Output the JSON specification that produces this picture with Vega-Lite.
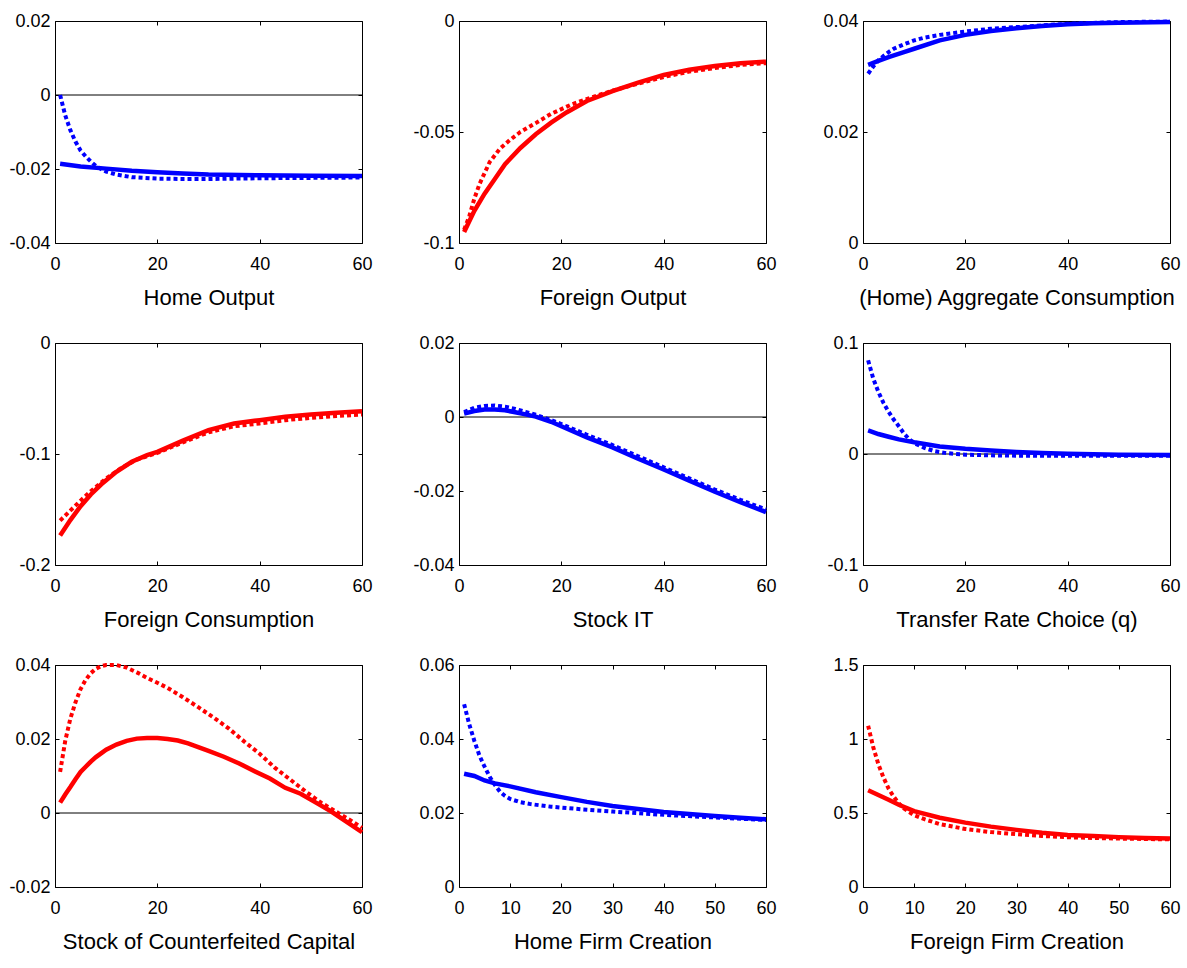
{
"$schema":"https://vega.github.io/schema/vega-lite/v6.json",
"padding":{"left":8,"top":11,"right":5,"bottom":5},
"background":"white",
"datasets":{"irf":[
{"p":1,"s":"solid","t":1,"v":-0.0186},{"p":1,"s":"solid","t":5,"v":-0.0193},{"p":1,"s":"solid","t":10,"v":-0.0199},{"p":1,"s":"solid","t":15,"v":-0.0205},{"p":1,"s":"solid","t":20,"v":-0.0209},{"p":1,"s":"solid","t":25,"v":-0.0212},{"p":1,"s":"solid","t":30,"v":-0.0215},{"p":1,"s":"solid","t":40,"v":-0.0217},{"p":1,"s":"solid","t":50,"v":-0.0218},{"p":1,"s":"solid","t":60,"v":-0.0219},
{"p":1,"s":"dotted","t":1,"v":0},{"p":1,"s":"dotted","t":2,"v":-0.0055},{"p":1,"s":"dotted","t":3,"v":-0.0095},{"p":1,"s":"dotted","t":4,"v":-0.0126},{"p":1,"s":"dotted","t":5,"v":-0.015},{"p":1,"s":"dotted","t":6,"v":-0.0166},{"p":1,"s":"dotted","t":7,"v":-0.018},{"p":1,"s":"dotted","t":8,"v":-0.0192},{"p":1,"s":"dotted","t":9,"v":-0.02},{"p":1,"s":"dotted","t":10,"v":-0.0207},{"p":1,"s":"dotted","t":12,"v":-0.0215},{"p":1,"s":"dotted","t":15,"v":-0.0222},{"p":1,"s":"dotted","t":20,"v":-0.0226},{"p":1,"s":"dotted","t":25,"v":-0.0227},{"p":1,"s":"dotted","t":30,"v":-0.0227},{"p":1,"s":"dotted","t":40,"v":-0.0225},{"p":1,"s":"dotted","t":50,"v":-0.0224},{"p":1,"s":"dotted","t":60,"v":-0.0223},
{"p":2,"s":"solid","t":1,"v":-0.095},{"p":2,"s":"solid","t":3,"v":-0.0855},{"p":2,"s":"solid","t":5,"v":-0.0778},{"p":2,"s":"solid","t":7,"v":-0.0712},{"p":2,"s":"solid","t":9,"v":-0.0645},{"p":2,"s":"solid","t":12,"v":-0.0572},{"p":2,"s":"solid","t":15,"v":-0.051},{"p":2,"s":"solid","t":18,"v":-0.0458},{"p":2,"s":"solid","t":21,"v":-0.0412},{"p":2,"s":"solid","t":25,"v":-0.036},{"p":2,"s":"solid","t":30,"v":-0.0316},{"p":2,"s":"solid","t":35,"v":-0.0278},{"p":2,"s":"solid","t":40,"v":-0.0243},{"p":2,"s":"solid","t":45,"v":-0.022},{"p":2,"s":"solid","t":50,"v":-0.0203},{"p":2,"s":"solid","t":55,"v":-0.019},{"p":2,"s":"solid","t":60,"v":-0.0183},
{"p":2,"s":"dotted","t":1,"v":-0.094},{"p":2,"s":"dotted","t":2,"v":-0.088},{"p":2,"s":"dotted","t":3,"v":-0.08},{"p":2,"s":"dotted","t":4,"v":-0.0735},{"p":2,"s":"dotted","t":6,"v":-0.0635},{"p":2,"s":"dotted","t":8,"v":-0.0575},{"p":2,"s":"dotted","t":10,"v":-0.0535},{"p":2,"s":"dotted","t":12,"v":-0.05},{"p":2,"s":"dotted","t":15,"v":-0.046},{"p":2,"s":"dotted","t":18,"v":-0.0418},{"p":2,"s":"dotted","t":22,"v":-0.0376},{"p":2,"s":"dotted","t":26,"v":-0.0343},{"p":2,"s":"dotted","t":30,"v":-0.0314},{"p":2,"s":"dotted","t":35,"v":-0.0282},{"p":2,"s":"dotted","t":40,"v":-0.0252},{"p":2,"s":"dotted","t":45,"v":-0.0228},{"p":2,"s":"dotted","t":50,"v":-0.0212},{"p":2,"s":"dotted","t":55,"v":-0.0198},{"p":2,"s":"dotted","t":60,"v":-0.019},
{"p":3,"s":"solid","t":1,"v":0.0321},{"p":3,"s":"solid","t":3,"v":0.0328},{"p":3,"s":"solid","t":5,"v":0.0335},{"p":3,"s":"solid","t":8,"v":0.0344},{"p":3,"s":"solid","t":10,"v":0.035},{"p":3,"s":"solid","t":15,"v":0.0365},{"p":3,"s":"solid","t":20,"v":0.0375},{"p":3,"s":"solid","t":25,"v":0.0382},{"p":3,"s":"solid","t":30,"v":0.0387},{"p":3,"s":"solid","t":35,"v":0.0391},{"p":3,"s":"solid","t":40,"v":0.0394},{"p":3,"s":"solid","t":45,"v":0.0396},{"p":3,"s":"solid","t":50,"v":0.0397},{"p":3,"s":"solid","t":60,"v":0.0398},
{"p":3,"s":"dotted","t":1,"v":0.0305},{"p":3,"s":"dotted","t":2,"v":0.0318},{"p":3,"s":"dotted","t":3,"v":0.0329},{"p":3,"s":"dotted","t":4,"v":0.0337},{"p":3,"s":"dotted","t":5,"v":0.0344},{"p":3,"s":"dotted","t":6,"v":0.035},{"p":3,"s":"dotted","t":8,"v":0.0358},{"p":3,"s":"dotted","t":10,"v":0.0365},{"p":3,"s":"dotted","t":12,"v":0.037},{"p":3,"s":"dotted","t":15,"v":0.0375},{"p":3,"s":"dotted","t":20,"v":0.0381},{"p":3,"s":"dotted","t":25,"v":0.0386},{"p":3,"s":"dotted","t":30,"v":0.0389},{"p":3,"s":"dotted","t":35,"v":0.0392},{"p":3,"s":"dotted","t":40,"v":0.0395},{"p":3,"s":"dotted","t":50,"v":0.0398},{"p":3,"s":"dotted","t":60,"v":0.0399},
{"p":4,"s":"solid","t":1,"v":-0.1735},{"p":4,"s":"solid","t":3,"v":-0.1595},{"p":4,"s":"solid","t":5,"v":-0.147},{"p":4,"s":"solid","t":7,"v":-0.1365},{"p":4,"s":"solid","t":9,"v":-0.1275},{"p":4,"s":"solid","t":12,"v":-0.116},{"p":4,"s":"solid","t":15,"v":-0.107},{"p":4,"s":"solid","t":18,"v":-0.101},{"p":4,"s":"solid","t":20,"v":-0.098},{"p":4,"s":"solid","t":25,"v":-0.088},{"p":4,"s":"solid","t":30,"v":-0.0785},{"p":4,"s":"solid","t":35,"v":-0.0725},{"p":4,"s":"solid","t":40,"v":-0.0695},{"p":4,"s":"solid","t":45,"v":-0.0665},{"p":4,"s":"solid","t":50,"v":-0.0645},{"p":4,"s":"solid","t":55,"v":-0.0628},{"p":4,"s":"solid","t":60,"v":-0.0614},
{"p":4,"s":"dotted","t":1,"v":-0.16},{"p":4,"s":"dotted","t":3,"v":-0.151},{"p":4,"s":"dotted","t":5,"v":-0.142},{"p":4,"s":"dotted","t":7,"v":-0.1335},{"p":4,"s":"dotted","t":10,"v":-0.122},{"p":4,"s":"dotted","t":13,"v":-0.1125},{"p":4,"s":"dotted","t":16,"v":-0.105},{"p":4,"s":"dotted","t":20,"v":-0.099},{"p":4,"s":"dotted","t":25,"v":-0.0895},{"p":4,"s":"dotted","t":30,"v":-0.0805},{"p":4,"s":"dotted","t":35,"v":-0.075},{"p":4,"s":"dotted","t":40,"v":-0.0725},{"p":4,"s":"dotted","t":45,"v":-0.0695},{"p":4,"s":"dotted","t":50,"v":-0.0675},{"p":4,"s":"dotted","t":55,"v":-0.0658},{"p":4,"s":"dotted","t":60,"v":-0.0644},
{"p":5,"s":"solid","t":1,"v":0.0009},{"p":5,"s":"solid","t":3,"v":0.0016},{"p":5,"s":"solid","t":5,"v":0.002},{"p":5,"s":"solid","t":7,"v":0.002},{"p":5,"s":"solid","t":9,"v":0.0018},{"p":5,"s":"solid","t":11,"v":0.0013},{"p":5,"s":"solid","t":13,"v":0.0007},{"p":5,"s":"solid","t":15,"v":0.0001},{"p":5,"s":"solid","t":18,"v":-0.0013},{"p":5,"s":"solid","t":20,"v":-0.0025},{"p":5,"s":"solid","t":25,"v":-0.0055},{"p":5,"s":"solid","t":30,"v":-0.0082},{"p":5,"s":"solid","t":35,"v":-0.0113},{"p":5,"s":"solid","t":40,"v":-0.0142},{"p":5,"s":"solid","t":45,"v":-0.0172},{"p":5,"s":"solid","t":50,"v":-0.0202},{"p":5,"s":"solid","t":55,"v":-0.023},{"p":5,"s":"solid","t":60,"v":-0.0257},
{"p":5,"s":"dotted","t":1,"v":0.0013},{"p":5,"s":"dotted","t":3,"v":0.0025},{"p":5,"s":"dotted","t":5,"v":0.003},{"p":5,"s":"dotted","t":7,"v":0.0031},{"p":5,"s":"dotted","t":9,"v":0.0028},{"p":5,"s":"dotted","t":11,"v":0.0022},{"p":5,"s":"dotted","t":13,"v":0.0014},{"p":5,"s":"dotted","t":15,"v":0.0006},{"p":5,"s":"dotted","t":18,"v":-0.0008},{"p":5,"s":"dotted","t":20,"v":-0.0019},{"p":5,"s":"dotted","t":25,"v":-0.0048},{"p":5,"s":"dotted","t":30,"v":-0.0076},{"p":5,"s":"dotted","t":35,"v":-0.0106},{"p":5,"s":"dotted","t":40,"v":-0.0136},{"p":5,"s":"dotted","t":45,"v":-0.0166},{"p":5,"s":"dotted","t":50,"v":-0.0196},{"p":5,"s":"dotted","t":55,"v":-0.0224},{"p":5,"s":"dotted","t":60,"v":-0.025},
{"p":6,"s":"solid","t":1,"v":0.0212},{"p":6,"s":"solid","t":3,"v":0.018},{"p":6,"s":"solid","t":5,"v":0.0155},{"p":6,"s":"solid","t":7,"v":0.0132},{"p":6,"s":"solid","t":10,"v":0.0106},{"p":6,"s":"solid","t":15,"v":0.0068},{"p":6,"s":"solid","t":20,"v":0.0047},{"p":6,"s":"solid","t":25,"v":0.0032},{"p":6,"s":"solid","t":30,"v":0.0019},{"p":6,"s":"solid","t":35,"v":0.001},{"p":6,"s":"solid","t":40,"v":0.0003},{"p":6,"s":"solid","t":45,"v":-0.0003},{"p":6,"s":"solid","t":50,"v":-0.0006},{"p":6,"s":"solid","t":60,"v":-0.0008},
{"p":6,"s":"dotted","t":1,"v":0.0844},{"p":6,"s":"dotted","t":2,"v":0.068},{"p":6,"s":"dotted","t":3,"v":0.056},{"p":6,"s":"dotted","t":4,"v":0.046},{"p":6,"s":"dotted","t":5,"v":0.038},{"p":6,"s":"dotted","t":6,"v":0.031},{"p":6,"s":"dotted","t":7,"v":0.025},{"p":6,"s":"dotted","t":8,"v":0.0185},{"p":6,"s":"dotted","t":9,"v":0.0135},{"p":6,"s":"dotted","t":10,"v":0.0098},{"p":6,"s":"dotted","t":12,"v":0.0055},{"p":6,"s":"dotted","t":14,"v":0.0025},{"p":6,"s":"dotted","t":16,"v":0.001},{"p":6,"s":"dotted","t":18,"v":0},{"p":6,"s":"dotted","t":20,"v":-0.0006},{"p":6,"s":"dotted","t":25,"v":-0.0012},{"p":6,"s":"dotted","t":30,"v":-0.0015},{"p":6,"s":"dotted","t":40,"v":-0.0016},{"p":6,"s":"dotted","t":50,"v":-0.0016},{"p":6,"s":"dotted","t":60,"v":-0.0016},
{"p":7,"s":"solid","t":1,"v":0.0028},{"p":7,"s":"solid","t":2,"v":0.005},{"p":7,"s":"solid","t":3,"v":0.007},{"p":7,"s":"solid","t":4,"v":0.0091},{"p":7,"s":"solid","t":5,"v":0.0111},{"p":7,"s":"solid","t":6,"v":0.0125},{"p":7,"s":"solid","t":7,"v":0.0139},{"p":7,"s":"solid","t":8,"v":0.0151},{"p":7,"s":"solid","t":9,"v":0.0161},{"p":7,"s":"solid","t":10,"v":0.0171},{"p":7,"s":"solid","t":12,"v":0.0185},{"p":7,"s":"solid","t":14,"v":0.0195},{"p":7,"s":"solid","t":16,"v":0.0201},{"p":7,"s":"solid","t":18,"v":0.0203},{"p":7,"s":"solid","t":20,"v":0.0203},{"p":7,"s":"solid","t":22,"v":0.02},{"p":7,"s":"solid","t":24,"v":0.0196},{"p":7,"s":"solid","t":26,"v":0.0188},{"p":7,"s":"solid","t":28,"v":0.0178},{"p":7,"s":"solid","t":30,"v":0.0168},{"p":7,"s":"solid","t":33,"v":0.0152},{"p":7,"s":"solid","t":36,"v":0.0134},{"p":7,"s":"solid","t":39,"v":0.0113},{"p":7,"s":"solid","t":42,"v":0.0093},{"p":7,"s":"solid","t":45,"v":0.0068},{"p":7,"s":"solid","t":48,"v":0.0052},{"p":7,"s":"solid","t":51,"v":0.0028},{"p":7,"s":"solid","t":54,"v":0.0004},{"p":7,"s":"solid","t":57,"v":-0.0024},{"p":7,"s":"solid","t":60,"v":-0.0052},
{"p":7,"s":"dotted","t":1,"v":0.0111},{"p":7,"s":"dotted","t":2,"v":0.0195},{"p":7,"s":"dotted","t":3,"v":0.0255},{"p":7,"s":"dotted","t":4,"v":0.0299},{"p":7,"s":"dotted","t":5,"v":0.0335},{"p":7,"s":"dotted","t":6,"v":0.036},{"p":7,"s":"dotted","t":7,"v":0.0378},{"p":7,"s":"dotted","t":8,"v":0.039},{"p":7,"s":"dotted","t":9,"v":0.0397},{"p":7,"s":"dotted","t":10,"v":0.04},{"p":7,"s":"dotted","t":12,"v":0.04},{"p":7,"s":"dotted","t":14,"v":0.0393},{"p":7,"s":"dotted","t":16,"v":0.038},{"p":7,"s":"dotted","t":18,"v":0.0365},{"p":7,"s":"dotted","t":20,"v":0.0352},{"p":7,"s":"dotted","t":22,"v":0.0338},{"p":7,"s":"dotted","t":25,"v":0.0313},{"p":7,"s":"dotted","t":28,"v":0.0286},{"p":7,"s":"dotted","t":31,"v":0.0258},{"p":7,"s":"dotted","t":34,"v":0.0228},{"p":7,"s":"dotted","t":37,"v":0.0193},{"p":7,"s":"dotted","t":40,"v":0.016},{"p":7,"s":"dotted","t":43,"v":0.0122},{"p":7,"s":"dotted","t":46,"v":0.009},{"p":7,"s":"dotted","t":49,"v":0.0058},{"p":7,"s":"dotted","t":52,"v":0.0028},{"p":7,"s":"dotted","t":55,"v":0.0003},{"p":7,"s":"dotted","t":58,"v":-0.0022},{"p":7,"s":"dotted","t":60,"v":-0.004},
{"p":8,"s":"solid","t":1,"v":0.0306},{"p":8,"s":"solid","t":3,"v":0.03},{"p":8,"s":"solid","t":5,"v":0.0288},{"p":8,"s":"solid","t":7,"v":0.028},{"p":8,"s":"solid","t":10,"v":0.0272},{"p":8,"s":"solid","t":15,"v":0.0256},{"p":8,"s":"solid","t":20,"v":0.0243},{"p":8,"s":"solid","t":25,"v":0.023},{"p":8,"s":"solid","t":30,"v":0.0219},{"p":8,"s":"solid","t":35,"v":0.0211},{"p":8,"s":"solid","t":40,"v":0.0203},{"p":8,"s":"solid","t":45,"v":0.0197},{"p":8,"s":"solid","t":50,"v":0.0192},{"p":8,"s":"solid","t":55,"v":0.0187},{"p":8,"s":"solid","t":60,"v":0.0183},
{"p":8,"s":"dotted","t":1,"v":0.0494},{"p":8,"s":"dotted","t":2,"v":0.044},{"p":8,"s":"dotted","t":3,"v":0.0395},{"p":8,"s":"dotted","t":4,"v":0.0355},{"p":8,"s":"dotted","t":5,"v":0.0325},{"p":8,"s":"dotted","t":6,"v":0.0298},{"p":8,"s":"dotted","t":7,"v":0.0276},{"p":8,"s":"dotted","t":8,"v":0.0258},{"p":8,"s":"dotted","t":9,"v":0.0246},{"p":8,"s":"dotted","t":10,"v":0.0238},{"p":8,"s":"dotted","t":12,"v":0.0229},{"p":8,"s":"dotted","t":14,"v":0.0224},{"p":8,"s":"dotted","t":18,"v":0.0217},{"p":8,"s":"dotted","t":24,"v":0.021},{"p":8,"s":"dotted","t":30,"v":0.0204},{"p":8,"s":"dotted","t":40,"v":0.0195},{"p":8,"s":"dotted","t":50,"v":0.0188},{"p":8,"s":"dotted","t":60,"v":0.0181},
{"p":9,"s":"solid","t":1,"v":0.654},{"p":9,"s":"solid","t":3,"v":0.622},{"p":9,"s":"solid","t":5,"v":0.59},{"p":9,"s":"solid","t":7,"v":0.556},{"p":9,"s":"solid","t":10,"v":0.513},{"p":9,"s":"solid","t":15,"v":0.468},{"p":9,"s":"solid","t":20,"v":0.435},{"p":9,"s":"solid","t":25,"v":0.408},{"p":9,"s":"solid","t":30,"v":0.386},{"p":9,"s":"solid","t":35,"v":0.366},{"p":9,"s":"solid","t":40,"v":0.352},{"p":9,"s":"solid","t":45,"v":0.344},{"p":9,"s":"solid","t":50,"v":0.337},{"p":9,"s":"solid","t":55,"v":0.331},{"p":9,"s":"solid","t":60,"v":0.327},
{"p":9,"s":"dotted","t":1,"v":1.09},{"p":9,"s":"dotted","t":2,"v":0.945},{"p":9,"s":"dotted","t":3,"v":0.83},{"p":9,"s":"dotted","t":4,"v":0.74},{"p":9,"s":"dotted","t":5,"v":0.665},{"p":9,"s":"dotted","t":6,"v":0.61},{"p":9,"s":"dotted","t":7,"v":0.565},{"p":9,"s":"dotted","t":8,"v":0.53},{"p":9,"s":"dotted","t":10,"v":0.485},{"p":9,"s":"dotted","t":12,"v":0.458},{"p":9,"s":"dotted","t":15,"v":0.425},{"p":9,"s":"dotted","t":20,"v":0.392},{"p":9,"s":"dotted","t":25,"v":0.371},{"p":9,"s":"dotted","t":30,"v":0.357},{"p":9,"s":"dotted","t":35,"v":0.345},{"p":9,"s":"dotted","t":40,"v":0.336},{"p":9,"s":"dotted","t":50,"v":0.327},{"p":9,"s":"dotted","t":60,"v":0.322}
]},
"columns":3,
"spacing":{"row":100,"column":97},
"bounds":"flush",
"concat":[
{"width":307,"height":222,"layer":[
 {"data":{"values":[{}]},"mark":{"type":"rule","color":"black","strokeWidth":1},"encoding":{"y":{"datum":0,"type":"quantitative","axis":null}}},
 {"data":{"name":"irf"},"transform":[{"filter":"datum.p==1 && datum.s=='solid'"}],"mark":{"type":"line","color":"#0000ff","strokeWidth":4.5},
  "encoding":{"x":{"field":"t","type":"quantitative","scale":{"domain":[0,60],"nice":false},"axis":{"orient":"bottom","values":[0,20,40,60],"title":"Home Output","labelExpr":"replace(format(datum.value,'~g'),'\u2212','-')"}},
  "y":{"field":"v","type":"quantitative","scale":{"domain":[-0.04,0.02],"nice":false,"zero":false},"axis":{"orient":"left","values":[-0.04,-0.02,0,0.02],"title":null,"labelExpr":"replace(format(datum.value,'~g'),'\u2212','-')"}}}},
 {"data":{"name":"irf"},"transform":[{"filter":"datum.p==1 && datum.s=='dotted'"}],"mark":{"type":"line","color":"#0000ff","strokeWidth":4,"strokeDash":[4,3]},
  "encoding":{"x":{"field":"t","type":"quantitative","axis":{"orient":"top","values":[0,20,40,60],"labels":false,"title":null}},
  "y":{"field":"v","type":"quantitative","axis":{"orient":"right","values":[-0.04,-0.02,0,0.02],"labels":false,"title":null}}}}
],"resolve":{"axis":{"x":"independent","y":"independent"}}},
{"width":307,"height":222,"layer":[
 {"data":{"name":"irf"},"transform":[{"filter":"datum.p==2 && datum.s=='solid'"}],"mark":{"type":"line","color":"#ff0000","strokeWidth":4.5},
  "encoding":{"x":{"field":"t","type":"quantitative","scale":{"domain":[0,60],"nice":false},"axis":{"orient":"bottom","values":[0,20,40,60],"title":"Foreign Output","labelExpr":"replace(format(datum.value,'~g'),'\u2212','-')"}},
  "y":{"field":"v","type":"quantitative","scale":{"domain":[-0.1,0],"nice":false,"zero":false},"axis":{"orient":"left","values":[-0.1,-0.05,0],"title":null,"labelExpr":"replace(format(datum.value,'~g'),'\u2212','-')"}}}},
 {"data":{"name":"irf"},"transform":[{"filter":"datum.p==2 && datum.s=='dotted'"}],"mark":{"type":"line","color":"#ff0000","strokeWidth":4,"strokeDash":[4,3]},
  "encoding":{"x":{"field":"t","type":"quantitative","axis":{"orient":"top","values":[0,20,40,60],"labels":false,"title":null}},
  "y":{"field":"v","type":"quantitative","axis":{"orient":"right","values":[-0.1,-0.05,0],"labels":false,"title":null}}}}
],"resolve":{"axis":{"x":"independent","y":"independent"}}},
{"width":307,"height":222,"layer":[
 {"data":{"name":"irf"},"transform":[{"filter":"datum.p==3 && datum.s=='solid'"}],"mark":{"type":"line","color":"#0000ff","strokeWidth":4.5},
  "encoding":{"x":{"field":"t","type":"quantitative","scale":{"domain":[0,60],"nice":false},"axis":{"orient":"bottom","values":[0,20,40,60],"title":"(Home) Aggregate Consumption","labelExpr":"replace(format(datum.value,'~g'),'\u2212','-')"}},
  "y":{"field":"v","type":"quantitative","scale":{"domain":[0,0.04],"nice":false,"zero":false},"axis":{"orient":"left","values":[0,0.02,0.04],"title":null,"labelExpr":"replace(format(datum.value,'~g'),'\u2212','-')"}}}},
 {"data":{"name":"irf"},"transform":[{"filter":"datum.p==3 && datum.s=='dotted'"}],"mark":{"type":"line","color":"#0000ff","strokeWidth":4,"strokeDash":[4,3]},
  "encoding":{"x":{"field":"t","type":"quantitative","axis":{"orient":"top","values":[0,20,40,60],"labels":false,"title":null}},
  "y":{"field":"v","type":"quantitative","axis":{"orient":"right","values":[0,0.02,0.04],"labels":false,"title":null}}}}
],"resolve":{"axis":{"x":"independent","y":"independent"}}},
{"width":307,"height":222,"layer":[
 {"data":{"name":"irf"},"transform":[{"filter":"datum.p==4 && datum.s=='solid'"}],"mark":{"type":"line","color":"#ff0000","strokeWidth":4.5},
  "encoding":{"x":{"field":"t","type":"quantitative","scale":{"domain":[0,60],"nice":false},"axis":{"orient":"bottom","values":[0,20,40,60],"title":"Foreign Consumption","labelExpr":"replace(format(datum.value,'~g'),'\u2212','-')"}},
  "y":{"field":"v","type":"quantitative","scale":{"domain":[-0.2,0],"nice":false,"zero":false},"axis":{"orient":"left","values":[-0.2,-0.1,0],"title":null,"labelExpr":"replace(format(datum.value,'~g'),'\u2212','-')"}}}},
 {"data":{"name":"irf"},"transform":[{"filter":"datum.p==4 && datum.s=='dotted'"}],"mark":{"type":"line","color":"#ff0000","strokeWidth":4,"strokeDash":[4,3]},
  "encoding":{"x":{"field":"t","type":"quantitative","axis":{"orient":"top","values":[0,20,40,60],"labels":false,"title":null}},
  "y":{"field":"v","type":"quantitative","axis":{"orient":"right","values":[-0.2,-0.1,0],"labels":false,"title":null}}}}
],"resolve":{"axis":{"x":"independent","y":"independent"}}},
{"width":307,"height":222,"layer":[
 {"data":{"values":[{}]},"mark":{"type":"rule","color":"black","strokeWidth":1},"encoding":{"y":{"datum":0,"type":"quantitative","axis":null}}},
 {"data":{"name":"irf"},"transform":[{"filter":"datum.p==5 && datum.s=='solid'"}],"mark":{"type":"line","color":"#0000ff","strokeWidth":4.5},
  "encoding":{"x":{"field":"t","type":"quantitative","scale":{"domain":[0,60],"nice":false},"axis":{"orient":"bottom","values":[0,20,40,60],"title":"Stock IT","labelExpr":"replace(format(datum.value,'~g'),'\u2212','-')"}},
  "y":{"field":"v","type":"quantitative","scale":{"domain":[-0.04,0.02],"nice":false,"zero":false},"axis":{"orient":"left","values":[-0.04,-0.02,0,0.02],"title":null,"labelExpr":"replace(format(datum.value,'~g'),'\u2212','-')"}}}},
 {"data":{"name":"irf"},"transform":[{"filter":"datum.p==5 && datum.s=='dotted'"}],"mark":{"type":"line","color":"#0000ff","strokeWidth":4,"strokeDash":[4,3]},
  "encoding":{"x":{"field":"t","type":"quantitative","axis":{"orient":"top","values":[0,20,40,60],"labels":false,"title":null}},
  "y":{"field":"v","type":"quantitative","axis":{"orient":"right","values":[-0.04,-0.02,0,0.02],"labels":false,"title":null}}}}
],"resolve":{"axis":{"x":"independent","y":"independent"}}},
{"width":307,"height":222,"layer":[
 {"data":{"values":[{}]},"mark":{"type":"rule","color":"black","strokeWidth":1},"encoding":{"y":{"datum":0,"type":"quantitative","axis":null}}},
 {"data":{"name":"irf"},"transform":[{"filter":"datum.p==6 && datum.s=='solid'"}],"mark":{"type":"line","color":"#0000ff","strokeWidth":4.5},
  "encoding":{"x":{"field":"t","type":"quantitative","scale":{"domain":[0,60],"nice":false},"axis":{"orient":"bottom","values":[0,20,40,60],"title":"Transfer Rate Choice (q)","labelExpr":"replace(format(datum.value,'~g'),'\u2212','-')"}},
  "y":{"field":"v","type":"quantitative","scale":{"domain":[-0.1,0.1],"nice":false,"zero":false},"axis":{"orient":"left","values":[-0.1,0,0.1],"title":null,"labelExpr":"replace(format(datum.value,'~g'),'\u2212','-')"}}}},
 {"data":{"name":"irf"},"transform":[{"filter":"datum.p==6 && datum.s=='dotted'"}],"mark":{"type":"line","color":"#0000ff","strokeWidth":4,"strokeDash":[4,3]},
  "encoding":{"x":{"field":"t","type":"quantitative","axis":{"orient":"top","values":[0,20,40,60],"labels":false,"title":null}},
  "y":{"field":"v","type":"quantitative","axis":{"orient":"right","values":[-0.1,0,0.1],"labels":false,"title":null}}}}
],"resolve":{"axis":{"x":"independent","y":"independent"}}},
{"width":307,"height":222,"layer":[
 {"data":{"values":[{}]},"mark":{"type":"rule","color":"black","strokeWidth":1},"encoding":{"y":{"datum":0,"type":"quantitative","axis":null}}},
 {"data":{"name":"irf"},"transform":[{"filter":"datum.p==7 && datum.s=='solid'"}],"mark":{"type":"line","color":"#ff0000","strokeWidth":4.5},
  "encoding":{"x":{"field":"t","type":"quantitative","scale":{"domain":[0,60],"nice":false},"axis":{"orient":"bottom","values":[0,20,40,60],"title":"Stock of Counterfeited Capital","labelExpr":"replace(format(datum.value,'~g'),'\u2212','-')"}},
  "y":{"field":"v","type":"quantitative","scale":{"domain":[-0.02,0.04],"nice":false,"zero":false},"axis":{"orient":"left","values":[-0.02,0,0.02,0.04],"title":null,"labelExpr":"replace(format(datum.value,'~g'),'\u2212','-')"}}}},
 {"data":{"name":"irf"},"transform":[{"filter":"datum.p==7 && datum.s=='dotted'"}],"mark":{"type":"line","color":"#ff0000","strokeWidth":4,"strokeDash":[4,3]},
  "encoding":{"x":{"field":"t","type":"quantitative","axis":{"orient":"top","values":[0,20,40,60],"labels":false,"title":null}},
  "y":{"field":"v","type":"quantitative","axis":{"orient":"right","values":[-0.02,0,0.02,0.04],"labels":false,"title":null}}}}
],"resolve":{"axis":{"x":"independent","y":"independent"}}},
{"width":307,"height":222,"layer":[
 {"data":{"name":"irf"},"transform":[{"filter":"datum.p==8 && datum.s=='solid'"}],"mark":{"type":"line","color":"#0000ff","strokeWidth":4.5},
  "encoding":{"x":{"field":"t","type":"quantitative","scale":{"domain":[0,60],"nice":false},"axis":{"orient":"bottom","values":[0,10,20,30,40,50,60],"title":"Home Firm Creation","labelExpr":"replace(format(datum.value,'~g'),'\u2212','-')"}},
  "y":{"field":"v","type":"quantitative","scale":{"domain":[0,0.06],"nice":false,"zero":false},"axis":{"orient":"left","values":[0,0.02,0.04,0.06],"title":null,"labelExpr":"replace(format(datum.value,'~g'),'\u2212','-')"}}}},
 {"data":{"name":"irf"},"transform":[{"filter":"datum.p==8 && datum.s=='dotted'"}],"mark":{"type":"line","color":"#0000ff","strokeWidth":4,"strokeDash":[4,3]},
  "encoding":{"x":{"field":"t","type":"quantitative","axis":{"orient":"top","values":[0,10,20,30,40,50,60],"labels":false,"title":null}},
  "y":{"field":"v","type":"quantitative","axis":{"orient":"right","values":[0,0.02,0.04,0.06],"labels":false,"title":null}}}}
],"resolve":{"axis":{"x":"independent","y":"independent"}}},
{"width":307,"height":222,"layer":[
 {"data":{"name":"irf"},"transform":[{"filter":"datum.p==9 && datum.s=='solid'"}],"mark":{"type":"line","color":"#ff0000","strokeWidth":4.5},
  "encoding":{"x":{"field":"t","type":"quantitative","scale":{"domain":[0,60],"nice":false},"axis":{"orient":"bottom","values":[0,10,20,30,40,50,60],"title":"Foreign Firm Creation","labelExpr":"replace(format(datum.value,'~g'),'\u2212','-')"}},
  "y":{"field":"v","type":"quantitative","scale":{"domain":[0,1.5],"nice":false,"zero":false},"axis":{"orient":"left","values":[0,0.5,1,1.5],"title":null,"labelExpr":"replace(format(datum.value,'~g'),'\u2212','-')"}}}},
 {"data":{"name":"irf"},"transform":[{"filter":"datum.p==9 && datum.s=='dotted'"}],"mark":{"type":"line","color":"#ff0000","strokeWidth":4,"strokeDash":[4,3]},
  "encoding":{"x":{"field":"t","type":"quantitative","axis":{"orient":"top","values":[0,10,20,30,40,50,60],"labels":false,"title":null}},
  "y":{"field":"v","type":"quantitative","axis":{"orient":"right","values":[0,0.5,1,1.5],"labels":false,"title":null}}}}
],"resolve":{"axis":{"x":"independent","y":"independent"}}}
],
"config":{
 "view":{"stroke":"black","strokeWidth":1},
 "axis":{"grid":false,"domain":false,"tickSize":-4,"tickColor":"black","tickWidth":1,"labelFont":"Liberation Sans, Arial, sans-serif","labelFontSize":18,"labelColor":"black","labelPadding":9,"labelFlush":false,"labelOverlap":false,"titleFont":"Liberation Sans, Arial, sans-serif","titleFontSize":22,"titleFontWeight":"normal","titleColor":"black","titlePadding":14},
 "axisX":{"labelPadding":16}
}
}
